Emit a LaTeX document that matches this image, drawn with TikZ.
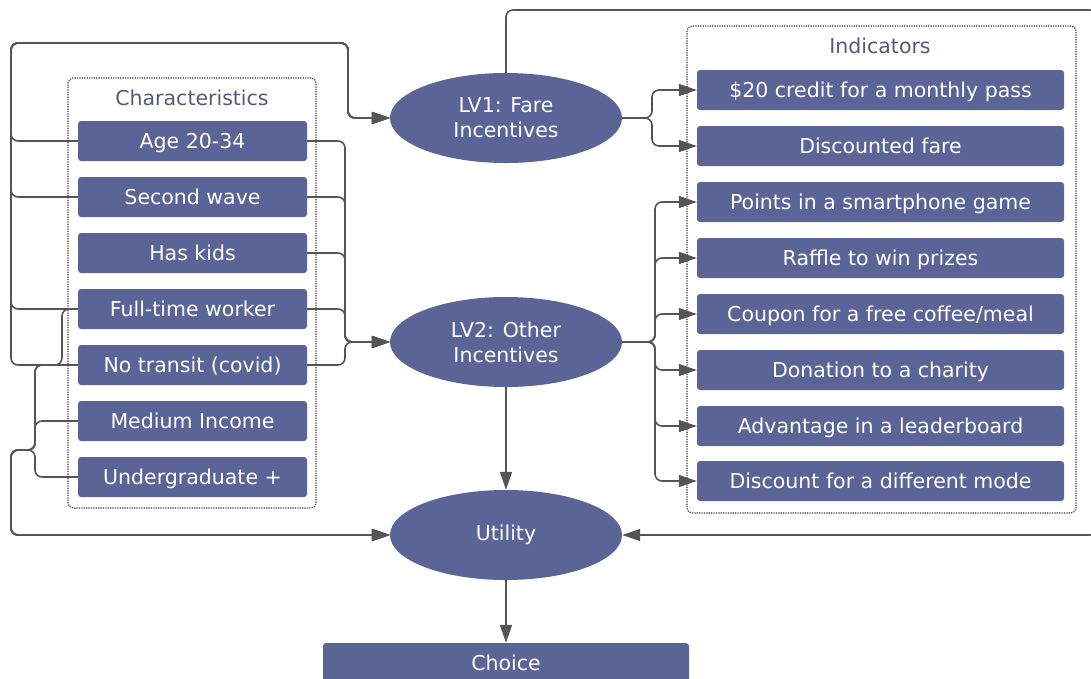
\documentclass[tikz,border=0pt]{standalone}
\usepackage{fontspec}
\setmainfont{DejaVu Sans}
\usetikzlibrary{arrows.meta,shapes.geometric}
\definecolor{boxc}{HTML}{5B6497}
\definecolor{linec}{HTML}{555555}
\definecolor{titlec}{HTML}{555A78}
\begin{document}
\begin{tikzpicture}[x=1pt,y=-1pt,
  font=\fontsize{20.5}{25}\selectfont,
  charbox/.style={rectangle, fill=boxc, text=white, rounded corners=3pt, minimum width=229pt, minimum height=40pt, inner sep=0pt, text height=18pt, text depth=4pt},
  indbox/.style={rectangle, fill=boxc, text=white, rounded corners=3pt, minimum width=367pt, minimum height=40pt, inner sep=0pt, text height=18pt, text depth=4pt},
  lv/.style={ellipse, fill=boxc, text=white, minimum width=232pt, minimum height=90pt, inner sep=0pt, align=center},
  grp/.style={rectangle, draw=black!80, line width=1.1pt, dash pattern=on 1.2pt off 1.2pt, rounded corners=5pt, inner sep=0pt},
  ttl/.style={text=titlec},
  conn/.style={draw=linec, line width=1.6pt, rounded corners=7pt},
  arr/.style={conn, -{Triangle[length=18pt,width=12pt]}}
]
\useasboundingbox (0,0) rectangle (1091,678);
\clip (0,0) rectangle (1091,678);

% groups
\node[grp, minimum width=248pt, minimum height=430pt] (chargrp) at (192,293) {};
\node[grp, minimum width=389pt, minimum height=487pt] (indgrp) at (881.5,269.5) {};
\node[ttl] (charttl) at (192,98) {Characteristics};
\node[ttl] (indttl) at (880,46) {Indicators};

% characteristics
\node[charbox] (c1) at (192.5,141) {Age 20-34};
\node[charbox] (c2) at (192.5,197) {Second wave};
\node[charbox] (c3) at (192.5,253) {Has kids};
\node[charbox] (c4) at (192.5,309) {Full-time worker};
\node[charbox] (c5) at (192.5,365) {No transit (covid)};
\node[charbox] (c6) at (192.5,421) {Medium Income};
\node[charbox] (c7) at (192.5,477) {Undergraduate +};

% indicators
\node[indbox] (i1) at (880.5,90) {\$20 credit for a monthly pass};
\node[indbox] (i2) at (880.5,146) {Discounted fare};
\node[indbox] (i3) at (880.5,202) {Points in a smartphone game};
\node[indbox] (i4) at (880.5,258) {Raffle to win prizes};
\node[indbox] (i5) at (880.5,314) {Coupon for a free coffee/meal};
\node[indbox] (i6) at (880.5,370) {Donation to a charity};
\node[indbox] (i7) at (880.5,426) {Advantage in a leaderboard};
\node[indbox] (i8) at (880.5,481) {Discount for a different mode};

% latent variables
\node[lv] (lv1) at (506,118) {LV1: Fare\\Incentives};
\node[lv] (lv2) at (506,342) {LV2: Other\\Incentives};
\node[lv] (util) at (506,535) {Utility};
\node[rectangle, fill=boxc, text=white, rounded corners=3pt, minimum width=366pt, minimum height=40pt, inner sep=0pt, text height=18pt, text depth=4pt] (choice) at (506,663) {Choice};

% characteristics -> LV1 (left bus)
\foreach \n in {c1,c2,c4,c5}
  \draw[arr] (\n.west) -| (11,43) -| (348,118) -- (lv1.west);

% characteristics -> LV2 (right side)
\foreach \n in {c1,c2,c3,c4,c5}
  \draw[arr] (\n.east) -| (345,342) -- (lv2.west);

% characteristics -> Utility
\draw[arr] (c4.west) -| (62,365) -| (35,450) -| (11,535) -- (util.west);
\foreach \n in {c5,c6,c7}
  \draw[arr] (\n.west) -| (35,450) -| (11,535) -- (util.west);

% LV1 -> indicators
\foreach \n in {i1,i2}
  \draw[arr] (lv1.east) -| (652,0 |- \n.west) -- (\n.west);

% LV2 -> indicators
\foreach \n in {i3,i4,i5,i6,i7,i8}
  \draw[arr] (lv2.east) -| (655,0 |- \n.west) -- (\n.west);

% LV1 -> Utility (around the top and right)
\draw[arr] (lv1.north) |- (1097,10) |- (util.east);

% LV2 -> Utility -> Choice
\draw[arr] (lv2.south) -- (util.north);
\draw[arr] (util.south) -- (choice.north);
\end{tikzpicture}
\end{document}
